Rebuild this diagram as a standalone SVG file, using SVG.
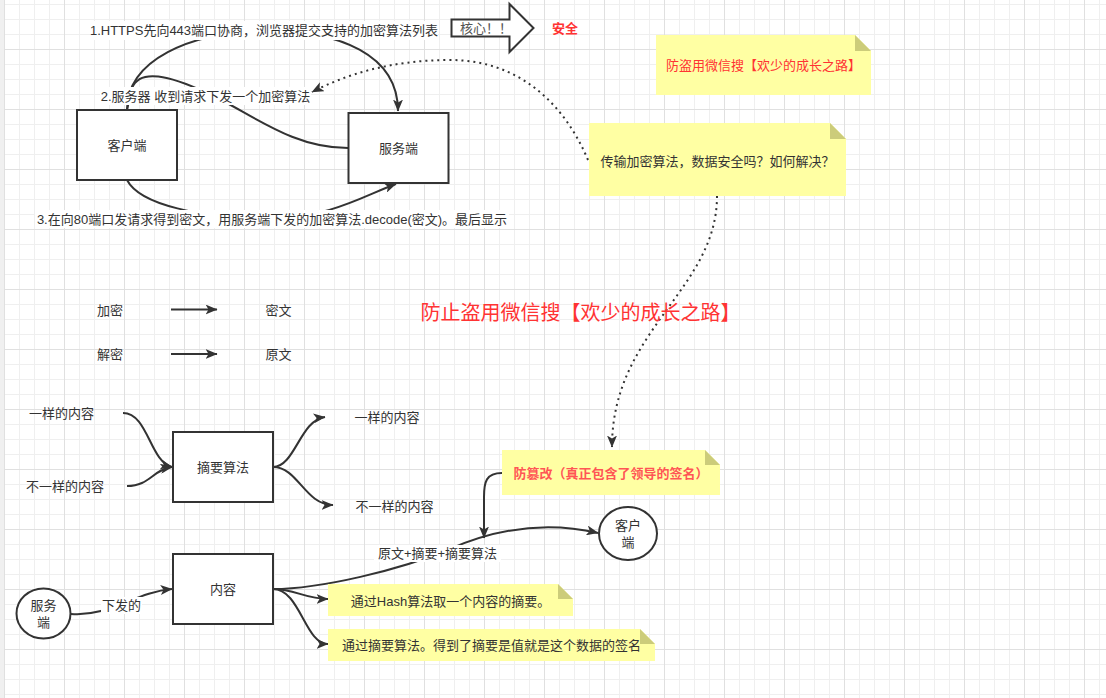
<svg xmlns="http://www.w3.org/2000/svg" width="1106" height="698" viewBox="0 0 1106 698">
<style>
.box{fill:#fff;stroke:#333;stroke-width:2}
.t{font-family:"Liberation Sans","Noto Sans CJK SC",sans-serif;font-size:13px;fill:#333;text-anchor:middle;dominant-baseline:central}
.el{font-size:13px}
.edge{fill:none;stroke:#333;stroke-width:2}
.dot{fill:none;stroke:#333;stroke-width:2;stroke-dasharray:2 4}
.note{fill:#ffffa3}
.fold{fill:#cccc7a}
.lbg{fill:#fff}
.red{fill:#ff3333}
</style>
<defs>
<pattern id="grid" x="4" y="49" width="60" height="60" patternUnits="userSpaceOnUse">
<rect x="15" y="0" width="1" height="60" fill="#efefef"/>
<rect x="30" y="0" width="1" height="60" fill="#efefef"/>
<rect x="45" y="0" width="1" height="60" fill="#efefef"/>
<rect x="0" y="15" width="60" height="1" fill="#efefef"/>
<rect x="0" y="30" width="60" height="1" fill="#efefef"/>
<rect x="0" y="45" width="60" height="1" fill="#efefef"/>
<rect x="0" y="0" width="1" height="60" fill="#e0e0e0"/>
<rect x="0" y="0" width="60" height="1" fill="#e0e0e0"/>
</pattern>
<marker id="arr" viewBox="0 0 12 10" refX="11.5" refY="5" markerWidth="12" markerHeight="10" markerUnits="userSpaceOnUse" orient="auto">
<path d="M0,0 L12,5 L0,10 L3,5 z" fill="#333"/>
</marker>
</defs>
<rect x="0" y="0" width="1106" height="698" fill="#fff"/>
<rect x="0" y="0" width="1106" height="698" fill="url(#grid)"/>
<rect x="0" y="0" width="4" height="698" fill="#f0f0f0"/>

<g id="connectors">
<path class="edge" d="M127,110 C127,60 190,32 264,31 C340,30 398,55 398,111" marker-end="url(#arr)"/>
<path class="edge" d="M348,148 C290,148 250,112 205,92 C170,76 140,68 132,88 L127,110"/>
<path class="edge" d="M127,180 C140,205 200,218 272,218 C330,218 365,195 396,184" marker-end="url(#arr)"/>
<path class="dot" d="M588,160 C565,105 520,60 450,60 C390,60 345,75 312,92" marker-end="url(#arr)"/>
<path class="dot" d="M717,196 C717,290 612,330 612,447" marker-end="url(#arr)"/>
<path class="edge" d="M171,309.5 L217,309.5" marker-end="url(#arr)"/>
<path class="edge" d="M171,354 L217,354" marker-end="url(#arr)"/>
<path class="edge" d="M123,413 C148,413 150,462 172,467" marker-end="url(#arr)"/>
<path class="edge" d="M127,486 C150,486 152,470 172,467" marker-end="url(#arr)"/>
<path class="edge" d="M273,467 C295,467 300,420 325,417" marker-end="url(#arr)"/>
<path class="edge" d="M273,467 C298,467 305,505 333,505" marker-end="url(#arr)"/>
<path class="edge" d="M71,614 C110,617 135,592 172,589" marker-end="url(#arr)"/>
<path class="edge" d="M273,589 C320,589 400,570 450,549 C500,527 550,522 598,533" marker-end="url(#arr)"/>
<path class="edge" d="M502,473 C486,473 484,482 484,497 L484,538" marker-end="url(#arr)"/>
<path class="edge" d="M273,589 C295,589 305,599 328,599" marker-end="url(#arr)"/>
<path class="edge" d="M273,589 C300,589 305,644 328,644" marker-end="url(#arr)"/>
<rect class="lbg" x="91" y="21" width="347" height="19"/>
<text class="t el" x="264" y="30.5">1.HTTPS先向443端口协商，浏览器提交支持的加密算法列表</text>
<rect class="lbg" x="100" y="87" width="211" height="18"/>
<text class="t el" x="205.5" y="96">2.服务器 收到请求下发一个加密算法</text>
<rect class="lbg" x="35" y="210" width="474" height="18"/>
<text class="t el" x="272" y="219">3.在向80端口发请求得到密文，用服务端下发的加密算法.decode(密文)。最后显示</text>
<rect class="lbg" x="101" y="597" width="41" height="17"/>
<text class="t" x="121.5" y="605">下发的</text>
<rect class="lbg" x="374" y="545" width="127" height="17"/>
<text class="t" x="437.5" y="553.5">原文+摘要+摘要算法</text>
</g>

<g id="client-top">
<rect class="box" x="77" y="110" width="100" height="70"/>
<text class="t" x="127" y="145">客户端</text>
</g>
<g id="server-top">
<rect class="box" x="348.5" y="113" width="100" height="70"/>
<text class="t" x="398.5" y="148">服务端</text>
</g>
<g id="core-arrow">
<path d="M451.5,19.5 L509.5,19.5 L509.5,4 L533.5,28 L509.5,52 L509.5,36.5 L451.5,36.5 Z" fill="#fff" stroke="#333" stroke-width="2"/>
<text class="t" x="486" y="28" style="fill:#555">核心！！</text>
</g>
<g id="safe">
<text class="t red" x="565" y="28.5" font-weight="bold">安全</text>
</g>
<g id="note-ad">
<path class="note" d="M656,35 H855 L871,51 V95 H656 Z"/>
<path class="fold" d="M855,35 L855,51 L871,51 Z"/>
<text class="t red" x="763.5" y="65">防盗用微信搜【欢少的成长之路】</text>
</g>
<g id="note-question">
<path class="note" d="M589,123 H830 L846,139 V196 H589 Z"/>
<path class="fold" d="M830,123 L830,139 L846,139 Z"/>
<text class="t" x="717.5" y="161.5">传输加密算法，数据安全吗？如何解决？</text>
</g>
<g id="big-title">
<text class="t red" x="580.5" y="313" style="font-size:20px">防止盗用微信搜【欢少的成长之路】</text>
</g>
<g id="enc"><text class="t" x="110" y="310">加密</text></g>
<g id="cipher"><text class="t" x="278.5" y="310">密文</text></g>
<g id="dec"><text class="t" x="110" y="354.5">解密</text></g>
<g id="plain"><text class="t" x="278.5" y="354.5">原文</text></g>
<g id="same-in"><text class="t" x="61.5" y="413">一样的内容</text></g>
<g id="diff-in"><text class="t" x="65" y="486.5">不一样的内容</text></g>
<g id="digest">
<rect class="box" x="173" y="432" width="100" height="70"/>
<text class="t" x="223" y="467">摘要算法</text>
</g>
<g id="same-out"><text class="t" x="387" y="417.5">一样的内容</text></g>
<g id="diff-out"><text class="t" x="394.5" y="506">不一样的内容</text></g>
<g id="server-bottom">
<ellipse class="box" cx="43.5" cy="613.5" rx="27" ry="25"/>
<text class="t" x="43.5" y="605.5">服务</text>
<text class="t" x="43.5" y="622.5">端</text>
</g>
<g id="content">
<rect class="box" x="173" y="554" width="100" height="70"/>
<text class="t" x="223" y="589">内容</text>
</g>
<g id="client-bottom">
<ellipse class="box" cx="628" cy="533.5" rx="29" ry="26.5"/>
<text class="t" x="628" y="525.5">客户</text>
<text class="t" x="628" y="542">端</text>
</g>
<g id="note-tamper">
<path class="note" d="M502,450 H705 L720,465 V495 H502 Z"/>
<path class="fold" d="M705,450 L705,465 L720,465 Z"/>
<text class="t" x="611" y="473" font-weight="bold" style="fill:#ff5555">防篡改（真正包含了领导的签名）</text>
</g>
<g id="note-hash">
<path class="note" d="M328,584 H558 L573,599 V616 H328 Z"/>
<path class="fold" d="M558,584 L558,599 L573,599 Z"/>
<text class="t" x="450.5" y="601">通过Hash算法取一个内容的摘要。</text>
</g>
<g id="note-sign">
<path class="note" d="M328,629 H640 L655,644 V661 H328 Z"/>
<path class="fold" d="M640,629 L640,644 L655,644 Z"/>
<text class="t" x="491.5" y="645">通过摘要算法。得到了摘要是值就是这个数据的签名</text>
</g>
</svg>
